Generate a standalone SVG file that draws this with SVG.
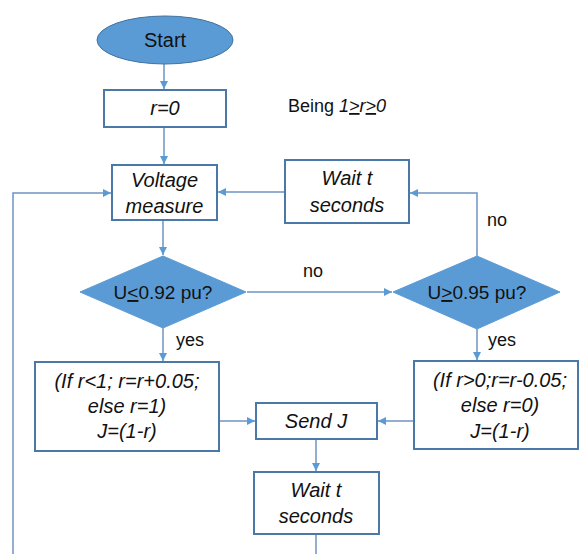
<svg xmlns="http://www.w3.org/2000/svg" width="579" height="554" viewBox="0 0 579 554">
<defs>
<style>
.box{fill:#fff;stroke:#4A78A8;stroke-width:2}
.dia{fill:#5B9BD5;stroke:#5B9BD5;stroke-width:1}
.term{fill:#5B9BD5;stroke:#41719C;stroke-width:1}
.t{font-family:"Liberation Sans",Arial,sans-serif;font-size:20px;fill:#111;text-anchor:middle}
.i{font-style:italic}
.lbl{font-family:"Liberation Sans",Arial,sans-serif;font-size:18px;fill:#111}
.c{fill:none;stroke:#6E94C2;stroke-width:1.5}
</style>
<marker id="ah" viewBox="0 0 10 10" refX="10" refY="5" markerWidth="8" markerHeight="8" markerUnits="userSpaceOnUse" orient="auto">
<path d="M0,0 L10,5 L0,10 z" fill="#5B9BD5"/>
</marker>
</defs>
<rect width="579" height="554" fill="#fff"/>
<g id="connectors">
<path class="c" d="M164,64 V89" marker-end="url(#ah)"/>
<path class="c" d="M164,127 V164" marker-end="url(#ah)"/>
<path class="c" d="M163,220 V255" marker-end="url(#ah)"/>
<path class="c" d="M285,192 H218" marker-end="url(#ah)"/>
<path class="c" d="M477,256 V193 H410" marker-end="url(#ah)"/>
<path class="c" d="M247,292 H392" marker-end="url(#ah)"/>
<path class="c" d="M163,328 V361" marker-end="url(#ah)"/>
<path class="c" d="M477,329 V360" marker-end="url(#ah)"/>
<path class="c" d="M219,421 H255" marker-end="url(#ah)"/>
<path class="c" d="M414,421 H378" marker-end="url(#ah)"/>
<path class="c" d="M316,439 V471" marker-end="url(#ah)"/>
<path class="c" d="M316,534 V554"/>
<path class="c" d="M13,554 V193 H111" marker-end="url(#ah)"/>
<text class="lbl" x="303" y="277">no</text>
<text class="lbl" x="487" y="226">no</text>
<text class="lbl" x="176" y="346">yes</text>
<text class="lbl" x="488" y="346">yes</text>
</g>
<g id="start">
<ellipse class="term" cx="165" cy="40" rx="68" ry="24"/>
<text class="t" x="165" y="47">Start</text>
</g>
<g id="init">
<rect class="box" x="104" y="90" width="122" height="37"/>
<text class="t i" x="165" y="115">r=0</text>
</g>
<g id="note">
<text class="lbl" x="288" y="112">Being <tspan class="i">1<tspan text-decoration="underline">&gt;</tspan>r<tspan text-decoration="underline">&gt;</tspan>0</tspan></text>
</g>
<g id="measure">
<rect class="box" x="112" y="165" width="105" height="55"/>
<text class="t i" x="164.5" y="187">Voltage</text>
<text class="t i" x="164.5" y="213">measure</text>
</g>
<g id="wait1">
<rect class="box" x="285" y="160" width="124" height="63"/>
<text class="t i" x="347" y="185">Wait t</text>
<text class="t i" x="347" y="212">seconds</text>
</g>
<g id="dec-low">
<polygon class="dia" points="80,292 163,256 246,292 163,328"/>
<text class="t" x="163" y="299" style="font-size:19px">U<tspan text-decoration="underline">&lt;</tspan>0.92 pu?</text>
</g>
<g id="dec-high">
<polygon class="dia" points="393,292 477,256 560,292 477,329"/>
<text class="t" x="477" y="299" style="font-size:19px">U<tspan text-decoration="underline">&gt;</tspan>0.95 pu?</text>
</g>
<g id="increase">
<rect class="box" x="35" y="362" width="184" height="89"/>
<text class="t i" x="127" y="388">(If r&lt;1; r=r+0.05;</text>
<text class="t i" x="127" y="413">else r=1)</text>
<text class="t i" x="127" y="438">J=(1-r)</text>
</g>
<g id="decrease">
<rect class="box" x="414" y="361" width="164" height="88"/>
<text class="t i" x="500" y="387">(If r&gt;0;r=r-0.05;</text>
<text class="t i" x="500" y="412">else r=0)</text>
<text class="t i" x="500" y="438">J=(1-r)</text>
</g>
<g id="send">
<rect class="box" x="256" y="403" width="121" height="36"/>
<text class="t i" x="316" y="428">Send J</text>
</g>
<g id="wait2">
<rect class="box" x="254" y="472" width="125" height="62"/>
<text class="t i" x="316" y="497">Wait t</text>
<text class="t i" x="316" y="523">seconds</text>
</g>
</svg>
